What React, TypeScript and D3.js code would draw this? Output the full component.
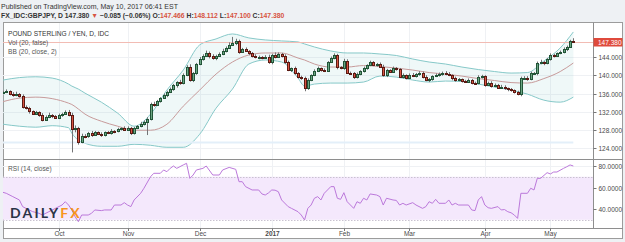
import * as d3 from "d3"
import { useEffect, useRef } from "react"

// GBPJPY daily bars, weekdays from 8 Sep 2016 to 10 May 2017
const firstDay = new Date(2016, 8, 8)
const lastDay = new Date(2017, 4, 10)

const firstOpen = 136.1
const closes = [
  136.3, 136.5, 136.0, 135.6, 135.9, 135.5, 133.0, 132.8, 132.1, 131.6,
  131.9, 131.3, 130.2, 130.9, 131.3, 131.0, 130.7, 131.2, 131.6, 132.0,
  131.3, 128.3, 128.4, 125.4, 126.8, 126.6, 127.4, 127.0, 127.5, 127.2,
  126.9, 127.5, 127.3, 127.8, 127.7, 128.2, 128.4, 128.1, 128.5, 127.3,
  128.4, 128.9, 129.4, 129.8, 130.4, 133.7, 133.5, 134.3, 135.0, 135.6,
  136.3, 136.9, 137.8, 138.5, 138.2, 140.1, 141.8, 139.0, 140.4, 142.5,
  143.6, 144.3, 144.9, 144.2, 143.7, 144.3, 144.7, 145.4, 146.0, 146.7,
  147.0, 147.4, 145.2, 145.7, 145.3, 144.8, 144.2, 143.9, 144.0, 143.8,
  144.1, 142.8, 144.4, 144.0, 144.7, 144.2, 142.9, 141.2, 141.5, 140.4,
  139.7, 139.3, 137.3, 139.0, 140.0, 141.0, 141.5, 141.2, 141.0, 142.9,
  143.8, 144.4, 141.8, 141.6, 143.2, 140.6, 140.4, 139.6, 140.2, 140.9,
  141.6, 142.2, 142.8, 142.3, 142.5, 141.9, 140.0, 141.1, 140.8, 141.6,
  141.3, 139.6, 140.0, 139.5, 140.1, 139.8, 140.3, 140.6, 139.6, 138.9,
  139.1, 139.8, 140.0, 140.3, 140.6, 140.3, 140.0, 139.4, 138.9, 139.1,
  138.7, 138.6, 138.9, 138.4, 138.2, 139.6, 139.8, 137.9, 138.3, 137.6,
  137.9, 137.3, 137.5, 137.1, 136.9, 136.7, 136.3, 136.0, 139.3, 139.5,
  139.2, 140.4, 140.5, 142.7, 142.9, 142.6, 143.5, 144.4, 144.3, 144.8,
  145.1, 145.7, 146.3, 147.466, 147.38,
]
// wick length above / below the body
const wickUp = [
  0.3, 0.4, 0.2, 0.3, 0.5, 0.2, 0.3, 0.4, 0.3, 0.2,
  0.3, 0.2, 0.4, 0.3, 0.5, 0.2, 0.3, 0.4, 0.2, 0.3,
  0.4, 0.5, 0.6, 0.3, 0.4, 0.3, 0.2, 0.4, 0.3, 0.2,
  0.3, 0.2, 0.3, 0.4, 0.2, 0.3, 0.2, 0.4, 0.3, 0.2,
  0.3, 0.2, 0.4, 0.3, 0.4, 0.3, 0.5, 0.3, 0.2, 0.4,
  0.3, 0.4, 0.3, 0.2, 0.5, 0.3, 0.4, 0.6, 0.3, 0.2,
  0.4, 0.3, 0.5, 0.3, 0.4, 0.2, 0.3, 0.4, 0.3, 0.5,
  1.4, 0.6, 0.4, 0.3, 0.4, 0.2, 0.3, 0.4, 0.3, 0.2,
  0.3, 0.4, 0.3, 0.6, 0.3, 0.2, 0.4, 0.3, 0.2, 0.4,
  0.3, 0.2, 0.4, 0.3, 0.2, 0.3, 0.4, 0.2, 0.3, 0.2,
  0.3, 0.4, 0.3, 0.2, 0.4, 0.3, 0.2, 0.3, 0.4, 0.2,
  0.3, 0.2, 0.4, 0.3, 0.2, 0.3, 0.4, 0.3, 0.2, 0.3,
  0.2, 0.3, 0.4, 0.2, 0.3, 0.4, 0.2, 0.3, 0.2, 0.4,
  0.3, 0.2, 0.4, 0.3, 0.2, 0.3, 0.4, 0.2, 0.3, 0.3,
  0.2, 0.3, 0.4, 0.3, 0.2, 0.4, 0.3, 0.2, 0.3, 0.4,
  0.3, 0.2, 0.4, 0.3, 0.2, 0.3, 0.2, 0.3, 0.4, 0.3,
  0.3, 0.4, 0.2, 0.3, 0.5, 0.2, 0.3, 0.4, 0.3, 0.2,
  0.3, 0.4, 0.2, 0.3, 0.65,
]
const wickDn = [
  0.3, 0.2, 0.4, 0.3, 0.2, 0.4, 0.3, 0.3, 0.5, 0.3,
  0.2, 0.4, 0.3, 0.2, 0.3, 0.4, 0.2, 0.3, 0.3, 0.2,
  0.3, 5.2, 0.8, 0.6, 0.3, 0.4, 0.3, 0.5, 0.2, 0.3,
  0.4, 0.3, 0.2, 0.3, 0.4, 0.2, 0.3, 0.2, 0.3, 0.4,
  0.3, 0.2, 0.3, 0.4, 2.9, 0.3, 0.4, 0.2, 0.3, 0.2,
  0.4, 0.2, 0.3, 0.5, 0.3, 0.2, 0.3, 0.4, 0.5, 0.3,
  0.3, 0.4, 0.2, 0.5, 0.3, 0.4, 0.2, 0.3, 0.4, 0.2,
  0.3, 0.4, 0.5, 0.3, 0.2, 0.4, 0.3, 0.2, 0.4, 0.3,
  0.2, 0.3, 0.4, 0.3, 0.2, 0.3, 0.4, 0.3, 0.5, 0.3,
  0.4, 0.3, 0.8, 0.5, 0.3, 0.2, 0.3, 0.4, 0.3, 0.2,
  0.2, 0.3, 0.5, 0.3, 0.4, 0.3, 0.2, 0.4, 0.3, 0.2,
  0.3, 0.4, 0.2, 0.3, 0.4, 0.3, 0.3, 0.4, 0.2, 0.3,
  0.3, 0.2, 0.3, 0.4, 0.3, 0.2, 0.3, 0.4, 0.3, 0.2,
  0.4, 0.3, 0.2, 0.3, 0.4, 0.3, 0.2, 0.5, 0.3, 0.2,
  0.3, 0.2, 0.3, 0.4, 0.3, 0.2, 0.3, 0.4, 0.2, 0.3,
  0.2, 0.3, 0.2, 0.3, 0.4, 0.3, 0.3, 0.4, 0.6, 0.3,
  0.4, 0.3, 0.2, 0.5, 0.3, 0.4, 0.2, 0.3, 0.4, 0.3,
  0.2, 0.3, 0.4, 0.3, 0.28,
]

// Bollinger Bands (20, close, 2), read at these bars
const bbBars = [0, 5, 10, 15, 20, 21, 23, 25, 30, 35, 40, 45, 50, 55, 60, 65, 70, 75, 80, 85, 90, 92, 95, 100, 105, 110, 115, 120, 125, 130, 135, 140, 145, 150, 155, 160, 165, 170, 174]
const bbUpper = [
  138.95, 139.49, 139.67, 139.38, 138.07, 137.63, 136.97, 136.09, 134.11, 131.69,
  128.84, 131.47, 136.75, 141.14, 146.64, 147.96, 149.05, 148.18, 147.74, 147.52,
  147.3, 146.86, 146.2, 145.32, 144.88, 144.88, 144.66, 144.33, 143.56, 142.9,
  142.46, 141.8, 141.25, 140.81, 140.48, 140.59, 143.12, 145.98, 149.49,
]
const bbMiddle = [
  134.22, 134.99, 135.21, 134.88, 133.89, 133.6, 132.6, 131.5, 129.93, 128.84,
  127.96, 127.96, 129.27, 133.23, 136.75, 140.26, 142.9, 144.44, 144.88, 144.88,
  143.78, 143.34, 142.46, 141.8, 141.8, 142.13, 141.91, 141.58, 141.14, 140.59,
  140.26, 139.82, 139.27, 138.84, 138.4, 138.29, 139.27, 140.81, 142.68,
]
const bbLower = [
  129.27, 128.84, 128.62, 128.95, 128.51, 127.3, 125.76, 125.1, 124.44, 124.44,
  124.88, 124.66, 124.22, 124.22, 127.08, 132.79, 136.97, 142.46, 143.34, 142.9,
  139.38, 137.63, 138.07, 138.29, 138.29, 138.51, 139.82, 139.6, 138.95, 138.51,
  138.73, 138.62, 138.07, 137.41, 136.75, 135.87, 134.55, 134.11, 135.21,
]

// RSI (14, close)
const rsiBars = [
  0, 1, 3, 5, 6, 7, 8, 9, 11, 12,
  14, 16, 18, 19, 20, 21, 22, 23, 24, 26,
  27, 28, 30, 31, 33, 34, 36, 37, 38, 39,
  40, 42, 43, 45, 46, 48, 49, 50, 51, 52,
  53, 55, 56, 57, 58, 59, 61, 62, 64, 66,
  67, 69, 71, 72, 73, 74, 76, 78, 79, 80,
  81, 82, 83, 84, 85, 87, 88, 90, 91, 92,
  93, 94, 95, 96, 97, 98, 99, 100, 101, 102,
  103, 104, 105, 107, 108, 109, 110, 111, 112, 114,
  115, 116, 117, 119, 120, 121, 122, 123, 125, 126,
  128, 129, 130, 131, 132, 133, 135, 136, 137, 138,
  139, 142, 143, 144, 145, 146, 147, 148, 149, 151,
  152, 153, 154, 155, 156, 157, 158, 160, 161, 162,
  163, 164, 166, 167, 168, 169, 171, 172, 173, 174,
]
const rsiValues = [
  55.5, 54.6, 51.5, 48.4, 42.2, 40.6, 39.1, 37.6, 36.0, 34.4,
  37.5, 40.6, 43.7, 46.8, 43.7, 39.1, 32.8, 28.2, 34.4, 34.4,
  36.0, 39.1, 38.5, 39.1, 39.1, 43.7, 43.7, 45.9, 43.7, 42.2,
  48.4, 54.6, 59.3, 70.0, 73.2, 73.2, 76.3, 74.7, 77.8, 80.0,
  77.8, 81.0, 82.5, 68.5, 71.6, 76.3, 77.8, 80.0, 71.6, 71.6,
  76.3, 78.7, 76.9, 65.4, 65.4, 60.8, 57.7, 57.7, 54.0, 53.0,
  55.0, 57.7, 57.5, 56.1, 48.4, 42.2, 40.6, 37.5, 34.4, 29.8,
  40.6, 43.7, 50.0, 51.5, 48.4, 54.6, 57.7, 60.8, 60.8, 50.0,
  49.0, 55.2, 46.8, 40.6, 46.8, 45.3, 50.0, 48.4, 54.0, 53.0,
  51.5, 43.7, 50.0, 48.4, 48.0, 43.7, 45.3, 43.7, 45.9, 43.7,
  40.6, 42.2, 46.8, 45.3, 49.0, 45.3, 45.3, 48.4, 43.7, 45.3,
  43.7, 43.7, 39.1, 38.5, 48.4, 51.5, 43.7, 41.2, 40.6, 42.2,
  39.1, 39.5, 37.5, 36.5, 34.4, 31.3, 54.6, 54.6, 59.3, 57.7,
  68.5, 68.5, 73.8, 72.6, 74.4, 74.4, 77.8, 79.3, 81.0, 80.0,
]

const priceTicks = [124, 128, 132, 136, 140, 144]
const rsiTicks = [40, 60, 80]
const rsiBand = [30, 70]
const lastClose = 147.38

export default function App() {
  const svgRef = useRef<SVGSVGElement>(null)

  useEffect(() => {
    if (!svgRef.current) return
    const width = 625
    const height = 242
    const pane = { left: 3, right: 593, top: 23, split: 159.5, bottom: 228 }
    const font = "'Liberation Sans', Arial, sans-serif"
    const up = { fill: "#6ba583", stroke: "#225437" }
    const down = { fill: "#d75442", stroke: "#5b1a13" }

    const days = d3.timeDay
      .range(firstDay, d3.timeDay.offset(lastDay, 1))
      .filter((d) => d.getDay() !== 0 && d.getDay() !== 6)

    const bars = closes.map((close, i) => {
      const open = i === 0 ? firstOpen : closes[i - 1]
      return {
        i,
        date: days[i],
        open,
        close,
        high: Math.max(open, close) + wickUp[i],
        low: Math.min(open, close) - wickDn[i],
      }
    })
    const months = bars.filter((b, i) => i > 0 && b.date.getMonth() !== bars[i - 1].date.getMonth())

    const x = d3.scaleLinear().domain([0, 180]).range([pane.left, pane.right])
    const y = d3.scaleLinear().domain([124, 144]).range([148.3, 57])
    const yRsi = d3.scaleLinear().domain([40, 80]).range([209, 166])

    const svg = d3.select(svgRef.current)
    svg.selectAll("*").remove()
    svg.attr("width", width).attr("height", height).style("display", "block")

    svg.append("rect").attr("width", width).attr("height", height).attr("fill", "#eef1f4")

    const defs = svg.append("defs")
    defs
      .append("clipPath")
      .attr("id", "main-clip")
      .append("rect")
      .attr("x", pane.left)
      .attr("y", pane.top)
      .attr("width", pane.right - pane.left)
      .attr("height", pane.split - pane.top)
    defs
      .append("clipPath")
      .attr("id", "rsi-clip")
      .append("rect")
      .attr("x", pane.left)
      .attr("y", pane.split)
      .attr("width", pane.right - pane.left)
      .attr("height", pane.bottom - pane.split)

    // header
    svg
      .append("text")
      .attr("x", 1)
      .attr("y", 8.5)
      .style("font-family", font)
      .style("font-size", "7px")
      .style("fill", "#333")
      .text("Published on TradingView.com, May 10, 2017 06:41 EST")

    const head = svg
      .append("text")
      .attr("x", 1)
      .attr("y", 17.5)
      .style("font-family", font)
      .style("font-size", "6.8px")
      .style("font-weight", "bold")
      .style("fill", "#333")
    const headParts: [string, string][] = [
      ["FX_IDC:GBPJPY, D  147.380 ", "#333"],
      ["▼", "#d75442"],
      [" −0.085 (−0.06%)  O:", "#333"],
      ["147.466", "#d75442"],
      [" H:", "#333"],
      ["148.112", "#d75442"],
      [" L:", "#333"],
      ["147.100", "#d75442"],
      [" C:", "#333"],
      ["147.380", "#d75442"],
    ]
    headParts.forEach(([t, c]) => head.append("tspan").style("fill", c).text(t))

    // chart panel
    svg
      .append("rect")
      .attr("x", 3.5)
      .attr("y", 22.5)
      .attr("width", 619)
      .attr("height", 216)
      .attr("fill", "#fff")
      .attr("stroke", "#9c9c9c")

    // grid
    const grid = svg.append("g").attr("stroke", "#eff1f4").attr("stroke-width", 1)
    months.forEach((m) => {
      const gx = Math.round(x(m.i)) + 0.5
      grid.append("line").attr("x1", gx).attr("x2", gx).attr("y1", pane.top).attr("y2", pane.bottom)
    })
    priceTicks.forEach((t) => {
      const gy = Math.round(y(t)) + 0.5
      grid.append("line").attr("x1", pane.left).attr("x2", pane.right).attr("y1", gy).attr("y2", gy)
    })
    rsiTicks.forEach((t) => {
      const gy = Math.round(yRsi(t)) + 0.5
      grid.append("line").attr("x1", pane.left).attr("x2", pane.right).attr("y1", gy).attr("y2", gy)
    })

    // main pane
    const main = svg.append("g").attr("clip-path", "url(#main-clip)")

    const bb = bbBars.map((b, k) => ({ b, up: bbUpper[k], mid: bbMiddle[k], low: bbLower[k] }))
    main
      .append("path")
      .datum(bb)
      .attr("fill", "rgba(120, 200, 200, 0.12)")
      .attr(
        "d",
        d3
          .area<(typeof bb)[number]>()
          .x((d) => x(d.b))
          .y0((d) => y(d.low))
          .y1((d) => y(d.up))
          .curve(d3.curveMonotoneX),
      )
    const bbLine = (key: "up" | "mid" | "low", color: string) =>
      main
        .append("path")
        .datum(bb)
        .attr("fill", "none")
        .attr("stroke", color)
        .attr("stroke-width", 1)
        .attr(
          "d",
          d3
            .line<(typeof bb)[number]>()
            .x((d) => x(d.b))
            .y((d) => y(d[key]))
            .curve(d3.curveMonotoneX),
        )
    bbLine("up", "#86c8c8")
    bbLine("low", "#86c8c8")
    bbLine("mid", "#c79a9a")

    // volume baseline (no volume for this feed)
    main
      .append("rect")
      .attr("x", x(0))
      .attr("y", pane.split - 18)
      .attr("width", x(bars.length - 1) - x(0))
      .attr("height", 2)
      .attr("fill", "#e3eff9")

    // last price line
    const ly = Math.round(y(lastClose)) + 0.5
    main
      .append("line")
      .attr("x1", pane.left)
      .attr("x2", pane.right)
      .attr("y1", ly)
      .attr("y2", ly)
      .attr("stroke", "#f2bcb4")

    bars.forEach((b) => {
      const cx = Math.round(x(b.i))
      const col = b.close >= b.open ? up : down
      main
        .append("line")
        .attr("x1", cx + 0.5)
        .attr("x2", cx + 0.5)
        .attr("y1", y(b.high))
        .attr("y2", y(b.low))
        .attr("stroke", "#737375")
      const top = Math.round(y(Math.max(b.open, b.close)))
      const bot = Math.round(y(Math.min(b.open, b.close)))
      main
        .append("rect")
        .attr("x", cx - 0.5)
        .attr("y", top + 0.5)
        .attr("width", 2)
        .attr("height", Math.max(bot - top, 1))
        .attr("fill", col.fill)
        .attr("stroke", col.stroke)
        .attr("stroke-width", 1)
    })

    // legend
    const legend = svg.append("g").style("font-family", font).style("font-size", "6.6px")
    legend.append("text").attr("x", 8).attr("y", 35.8).style("fill", "#333").text("POUND STERLING / YEN, D, IDC")
    legend.append("text").attr("x", 8).attr("y", 44.8).style("fill", "#555").text("Vol (20, false)")
    legend.append("text").attr("x", 8).attr("y", 54).style("fill", "#555").text("BB (20, close, 2)")

    // rsi pane
    const rsiG = svg.append("g").attr("clip-path", "url(#rsi-clip)")
    rsiG
      .append("rect")
      .attr("x", pane.left)
      .attr("y", yRsi(rsiBand[1]))
      .attr("width", pane.right - pane.left)
      .attr("height", yRsi(rsiBand[0]) - yRsi(rsiBand[1]))
      .attr("fill", "#f4e8fc")
    rsiBand.forEach((v) => {
      const gy = Math.round(yRsi(v)) + 0.5
      rsiG
        .append("line")
        .attr("x1", pane.left)
        .attr("x2", pane.right)
        .attr("y1", gy)
        .attr("y2", gy)
        .attr("stroke", "#c9c2d0")
        .attr("stroke-dasharray", "1.5,1.5")
    })

    // DailyFX logo
    const logo = svg
      .append("text")
      .attr("x", 10)
      .attr("y", 218)
      .style("font-family", "Lato, 'DejaVu Sans', sans-serif")
      .style("font-size", "14px")
      .style("font-weight", "bold")
      .style("letter-spacing", "2.2px")
    logo.append("tspan").style("fill", "#2b3347").text("DAILY")
    logo.append("tspan").style("fill", "#f7941d").text("FX")

    rsiG
      .append("path")
      .datum(rsiBars.map((b, k) => [b, rsiValues[k]] as [number, number]))
      .attr("fill", "none")
      .attr("stroke", "#bb78da")
      .attr("stroke-width", 1)
      .attr(
        "d",
        d3
          .line<[number, number]>()
          .x((d) => x(d[0]))
          .y((d) => yRsi(d[1])),
      )

    svg
      .append("text")
      .attr("x", 8)
      .attr("y", 170.5)
      .style("font-family", font)
      .style("font-size", "6.6px")
      .style("fill", "#555")
      .text("RSI (14, close)")

    // frame lines
    const frame = svg.append("g").attr("stroke", "#8e8e8e").attr("stroke-width", 1)
    frame.append("line").attr("x1", 593.5).attr("x2", 593.5).attr("y1", 22.5).attr("y2", pane.bottom + 0.5)
    frame.append("line").attr("x1", 3).attr("x2", 623).attr("y1", pane.split).attr("y2", pane.split)
    frame.append("line").attr("x1", 3).attr("x2", 623).attr("y1", pane.bottom + 0.5).attr("y2", pane.bottom + 0.5)

    // price axis
    const axis = svg.append("g").style("font-family", font).style("font-size", "6.5px")
    priceTicks.forEach((t) => {
      const ty = Math.round(y(t)) + 0.5
      axis.append("line").attr("x1", 593.5).attr("x2", 596.5).attr("y1", ty).attr("y2", ty).attr("stroke", "#777")
      axis.append("text").attr("x", 598.5).attr("y", ty + 2.3).style("fill", "#4a4a4a").text(d3.format(".3f")(t))
    })
    rsiTicks.forEach((t) => {
      const ty = Math.round(yRsi(t)) + 0.5
      axis.append("line").attr("x1", 593.5).attr("x2", 596.5).attr("y1", ty).attr("y2", ty).attr("stroke", "#777")
      axis.append("text").attr("x", 598.5).attr("y", ty + 2.3).style("fill", "#4a4a4a").text(d3.format(".4f")(t))
    })
    axis
      .append("rect")
      .attr("x", 593.5)
      .attr("y", ly - 4.5)
      .attr("width", 29)
      .attr("height", 8.5)
      .attr("fill", "#df4a3c")
    axis
      .append("text")
      .attr("x", 598)
      .attr("y", ly + 2.3)
      .style("fill", "#fff")
      .text(d3.format(".3f")(lastClose))

    // time axis
    months.forEach((m) => {
      const tx = Math.round(x(m.i)) + 0.5
      axis.append("line").attr("x1", tx).attr("x2", tx).attr("y1", pane.bottom + 0.5).attr("y2", pane.bottom + 3).attr("stroke", "#777")
      const jan = m.date.getMonth() === 0
      axis
        .append("text")
        .attr("x", tx)
        .attr("y", 236.3)
        .attr("text-anchor", "middle")
        .style("fill", "#4a4a4a")
        .style("font-weight", jan ? "bold" : "normal")
        .text(jan ? d3.timeFormat("%Y")(m.date) : d3.timeFormat("%b")(m.date))
    })
  }, [])

  return (
    <div style={{ position: "absolute", left: 0, top: 0 }}>
      <svg ref={svgRef}></svg>
    </div>
  )
}
